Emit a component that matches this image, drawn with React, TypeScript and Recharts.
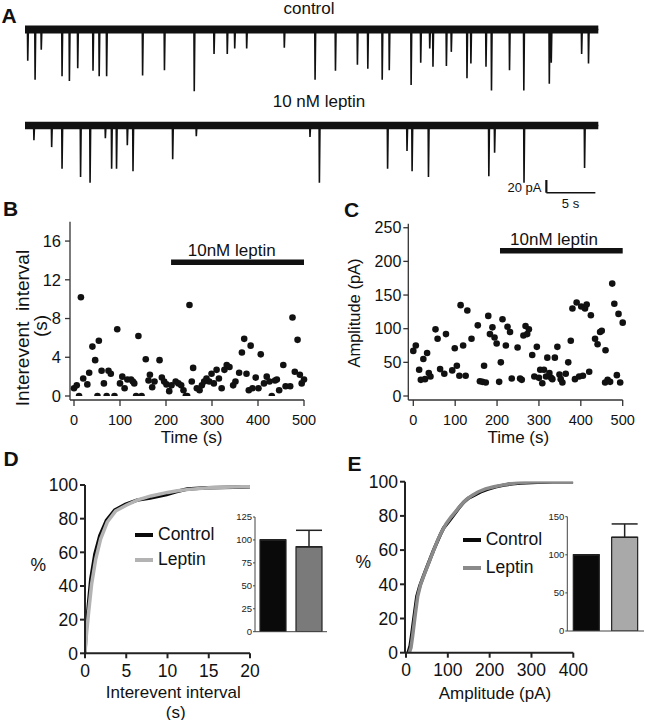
import React from "react";
import {
  LineChart, Line, XAxis, YAxis, ScatterChart, Scatter, ReferenceLine, ReferenceArea,
  BarChart, Bar, Cell, ErrorBar, Legend,
} from "recharts";

const FONT = '"Liberation Sans", Arial, Helvetica, sans-serif';

// A: raw traces (event time in s, amplitude in pA)
const traceLength = 58.5;
const controlTimes = [0.28, 1.03, 1.66, 3.78, 4.53, 5.38, 6.94, 7.57, 8.33, 12.0, 14.23, 17.27, 19.29, 20.64, 21.4, 22.62, 26.46, 29.6, 31.68, 33.92, 34.98, 36.45, 37.17, 39.4, 40.38, 41.3, 41.63, 43.0, 43.5, 45.1, 45.5, 47.04, 47.6, 49.44, 50.9, 53.5, 53.7, 56.8, 57.5];
const controlAmps = [46, 74, 30, 69, 76, 57, 61, 69, 69, 68, 60, 91, 36, 36, 28, 28, 27, 74, 61, 52, 58, 74, 60, 82, 49, 28, 55, 54, 33, 72, 50, 55, 90, 60, 90, 80, 49, 36, 50];
const leptinTimes = [0.91, 2.72, 3.78, 5.67, 6.64, 8.2, 8.84, 9.34, 10.44, 11.02, 15.07, 17.48, 29.08, 30.04, 37.0, 38.98, 39.5, 41.17, 47.33, 47.92, 50.92, 57.1];
const leptinAmps = [23, 34, 68, 81, 90, 20, 68, 68, 31, 72, 53, 17, 18, 90, 68, 40, 72, 81, 80, 43, 90, 67];
const noiseBand = [-6, 6];
const scaleBarTime = [53.2, 58.2]; // 5 s
const scaleBarCurrent = [-85.8, -105.8]; // 20 pA

// B: interevent interval vs time
const bTimes = [0, 6, 11, 15, 20, 29, 33, 40, 46, 51, 54, 60, 65, 71, 75, 80, 88, 94, 100, 105, 110, 116, 124, 128, 131, 135, 140, 147, 156, 162, 165, 170, 175, 186, 191, 196, 201, 207, 212, 221, 227, 233, 238, 243, 246, 251, 256, 259, 267, 273, 278, 283, 288, 294, 299, 304, 310, 315, 321, 327, 332, 338, 346, 351, 359, 365, 370, 375, 380, 384, 388, 395, 401, 406, 413, 419, 425, 430, 437, 441, 446, 455, 460, 470, 475, 480, 486, 491, 495, 500];
const bIntervals = [0.8, 1.1, 0, 10.2, 1.8, 1.2, 2.4, 5.1, 3.7, 0, 5.7, 2.6, 1.3, 0, 2.6, 2.3, 0, 6.9, 1.3, 2.0, 0.8, 1.7, 1.7, 1.5, 1.3, 0, 6.2, 0, 3.8, 1.6, 2.2, 0.9, 1.5, 3.7, 1.9, 1.5, 1.2, 0.5, 1.1, 1.5, 1.3, 1.1, 0.6, 0, 0, 9.4, 1.5, 2.9, 0.8, 0.6, 1.1, 1.5, 1.8, 1.5, 2.3, 1.3, 2.7, 1.8, 0.8, 2.7, 3.2, 3.0, 1.1, 1.5, 2.4, 4.5, 5.9, 2.3, 0.6, 5.2, 0.8, 1.9, 0.8, 4.3, 1.3, 2.0, 1.5, 0, 1.6, 1.7, 0.6, 3.2, 1.0, 1.0, 8.1, 2.5, 5.8, 2.2, 1.3, 1.7];
const bMajorTicks = [0, 4, 8, 12, 16];
const bMinorTicks = [2, 6, 10, 14, 18];
const bLeptinPeriod = [211, 500];
const bLeptinLevel = 13.8;

// C: amplitude vs time
const cTimes = [0, 6, 14, 18, 24, 28, 33, 37, 41, 53, 58, 64, 74, 78, 93, 99, 104, 110, 113, 119, 125, 129, 139, 154, 159, 165, 169, 173, 179, 183, 189, 194, 199, 205, 209, 213, 221, 225, 231, 235, 249, 255, 259, 263, 268, 272, 276, 284, 289, 295, 300, 303, 308, 312, 317, 320, 325, 329, 332, 338, 344, 349, 352, 356, 364, 370, 376, 380, 386, 390, 396, 401, 405, 410, 414, 420, 424, 434, 440, 446, 450, 458, 459, 464, 470, 475, 480, 486, 490, 494, 500];
const cAmps = [67, 75, 39, 24, 55, 25, 64, 34, 29, 99, 85, 40, 33, 92, 38, 71, 45, 30, 135, 75, 30, 127, 85, 105, 22, 21, 45, 20, 119, 92, 102, 87, 78, 21, 50, 114, 75, 103, 95, 26, 72, 26, 24, 90, 104, 92, 99, 61, 29, 73, 27, 39, 19, 39, 29, 57, 34, 27, 25, 57, 73, 32, 25, 20, 33, 50, 82, 130, 25, 139, 29, 133, 30, 130, 136, 36, 120, 85, 77, 95, 97, 20, 68, 24, 21, 167, 137, 31, 122, 20, 109];
const cLeptinPeriod = [207, 500];
const cLeptinLevel = 215.8;

// D: cumulative interevent interval (s, %)
const dCtrlX = [0, 0.1, 0.4, 0.7, 1.2, 1.8, 2.6, 3.6, 4.9, 6.3, 7.9, 9.9, 11, 12.4, 14.8, 18, 20];
const dCtrlY = [0, 12, 28, 44, 59, 70, 79, 85, 88.5, 91, 92.3, 94.3, 96, 97.6, 98.3, 98.7, 99];
const dLepX = [0, 0.15, 0.45, 0.8, 1.3, 1.9, 2.7, 3.7, 5.0, 6.4, 8.0, 10.0, 11.2, 12.6, 15, 18, 20];
const dLepY = [0, 10, 25, 41, 56, 68, 78, 84.5, 88, 91.2, 93.5, 95.6, 96.6, 97.4, 98.3, 98.8, 99.1];

// E: cumulative amplitude (pA, %)
const eCtrlX = [5, 10, 14, 20, 26, 33, 42, 50, 58, 66, 74, 82, 90, 100, 114, 126, 138, 150, 162, 178, 194, 214, 234, 254, 274, 314, 350, 400];
const eCtrlY = [0, 4, 11, 22, 33, 39, 45, 50, 55, 60, 64.5, 69, 73, 76, 80.5, 84.5, 88, 90.5, 92, 94, 95.5, 97, 98, 98.8, 99.3, 99.7, 100, 100];
const eLepX = [8, 12, 16, 22, 28, 35, 44, 52, 60, 68, 76, 86, 96, 108, 120, 132, 144, 158, 172, 190, 210, 230, 250, 270, 300, 340, 400];
const eLepY = [0, 3, 10, 22, 33, 40, 46, 51, 56, 61, 66, 71, 75.5, 79.5, 83, 86.5, 89.5, 92, 94, 95.8, 97, 98, 98.8, 99.5, 99.8, 100, 100];

// insets: normalized mean (% of control)
const groups = ["Control", "Leptin"];
const dFreqMean = [100, 92.5];
const dFreqErr = [0, 18];
const eAmpMean = [100, 123];
const eAmpErr = [0, 17.5];

const toTrace = (times: number[], amps: number[], end: number) => {
  const pts: { t: number; v: number }[] = [{ t: 0, v: 0 }];
  times.forEach((t, i) => {
    pts.push({ t: t - 0.03, v: 0 }, { t, v: -amps[i] }, { t: t + 0.06, v: 0 });
  });
  pts.push({ t: end, v: 0 });
  return pts;
};
const zipXY = (xs: number[], ys: number[]) => xs.map((x, i) => ({ x, y: ys[i] }));
const zipTV = (ts: number[], vs: number[]) => ts.map((t, i) => ({ t, v: vs[i] }));
const barRows = (means: number[], errs: number[]) =>
  groups.map((g, i) => ({ g, m: means[i], err: [0, errs[i]] }));

const controlTrace = toTrace(controlTimes, controlAmps, traceLength);
const leptinTrace = toTrace(leptinTimes, leptinAmps, traceLength);
const bData = zipTV(bTimes, bIntervals);
const cData = zipTV(cTimes, cAmps);

const Txt = ({ x, y, size = 17, bold = false, rotate = 0, children }: any) => (
  <div
    style={{
      position: "absolute", left: x, top: y, fontSize: size, fontWeight: bold ? 700 : 400,
      lineHeight: 1, whiteSpace: "nowrap", color: "#111", pointerEvents: "none",
      transform: `translate(-50%, -50%) rotate(${rotate}deg)`,
    }}
  >
    {children}
  </div>
);

const Dot = (p: any) => <circle cx={p.cx} cy={p.cy} r={3.3} fill="#111" />;

const LegendBox = ({ payload, rowH }: any) => (
  <div style={{ fontSize: 17.5, color: "#111", lineHeight: 1 }}>
    {(payload || []).map((p: any) => (
      <div key={p.value} style={{ display: "flex", alignItems: "center", height: rowH }}>
        <span style={{ display: "inline-block", width: 18, height: 4, background: p.color, marginRight: 5 }} />
        <span>{p.value}</span>
      </div>
    ))}
  </div>
);

const abs = (left: number, top: number): React.CSSProperties => ({ position: "absolute", left, top });
const axisStroke = { stroke: "#333", strokeWidth: 1.3 };
const axisStrokeBold = { stroke: "#222", strokeWidth: 2 };

const TraceChart = ({ data, top, marginTop, domain, scaleBar }: any) => (
  <div style={abs(0, top)}>
    <LineChart width={647} height={100} data={data} margin={{ top: marginTop, right: 34, bottom: 0, left: 25 }}>
      <XAxis type="number" dataKey="t" domain={[0, 60]} hide allowDataOverflow />
      <YAxis type="number" domain={domain} hide allowDataOverflow />
      <ReferenceArea x1={0} x2={traceLength} y1={noiseBand[0]} y2={noiseBand[1]} fill="#111" fillOpacity={1} stroke="none" />
      <Line type="linear" dataKey="v" stroke="#111" strokeWidth={1.6} dot={false} isAnimationActive={false} />
      {scaleBar && (
        <ReferenceLine
          segment={[{ x: scaleBarTime[0], y: scaleBarCurrent[0] }, { x: scaleBarTime[0], y: scaleBarCurrent[1] }]}
          stroke="#111" strokeWidth={2.2}
        />
      )}
      {scaleBar && (
        <ReferenceLine
          segment={[{ x: scaleBarTime[0], y: scaleBarCurrent[1] }, { x: scaleBarTime[1], y: scaleBarCurrent[1] }]}
          stroke="#111" strokeWidth={1.6}
        />
      )}
    </LineChart>
  </div>
);

const InsetBars = ({ left, top, width, yWidth, marginTop, marginRight, xHeight, rows, domain, ticks, fills }: any) => (
  <div style={abs(left, top)}>
    <BarChart width={width} height={135} data={rows} margin={{ top: marginTop, right: marginRight, bottom: 0, left: 0 }}>
      <XAxis dataKey="g" tick={false} tickLine={false} height={xHeight} axisLine={{ stroke: "#444", strokeWidth: 1 }} />
      <YAxis
        width={yWidth} domain={domain} ticks={ticks} allowDataOverflow tickSize={2} tickMargin={1}
        axisLine={{ stroke: "#444", strokeWidth: 1 }} tickLine={{ stroke: "#444" }}
        tick={{ fontSize: 9.5, fill: "#222" }}
      />
      <Bar dataKey="m" barSize={26} stroke="#222" strokeWidth={1.2} isAnimationActive={false}>
        {rows.map((r: any, i: number) => (
          <Cell key={r.g} fill={fills[i]} />
        ))}
        <ErrorBar dataKey="err" width={13} stroke="#222" strokeWidth={1.5} direction="y" />
      </Bar>
    </BarChart>
  </div>
);

export default function App() {
  return (
    <div style={{ position: "absolute", left: 0, top: 0, width: 647, height: 720, background: "#fff", fontFamily: FONT, overflow: "hidden" }}>
      {/* A */}
      <TraceChart data={controlTrace} top={0} marginTop={20} domain={[-104, 14]} />
      <TraceChart data={leptinTrace} top={100} marginTop={16} domain={[-117.3, 15]} scaleBar />

      {/* B */}
      <div style={abs(0, 200)}>
        <ScatterChart width={320} height={250} margin={{ top: 21.7, right: 16, bottom: 0, left: 0 }}>
          <XAxis
            type="number" dataKey="t" domain={[0, 500]} ticks={[0, 100, 200, 300, 400, 500]}
            padding={{ left: 4, right: 0 }} height={50} tickSize={6} tickMargin={9}
            axisLine={axisStroke} tickLine={axisStroke} tick={{ fontSize: 14.5, fill: "#111" }}
          />
          <YAxis
            yAxisId="minor" type="number" domain={[0, 18]} ticks={bMinorTicks}
            padding={{ top: 0, bottom: 4 }} width={0} tickSize={3} tick={false}
            axisLine={false} tickLine={axisStroke} allowDataOverflow
          />
          <YAxis
            type="number" dataKey="v" domain={[0, 18]} ticks={bMajorTicks}
            padding={{ top: 0, bottom: 4 }} width={70} tickSize={5} tickMargin={4}
            axisLine={axisStroke} tickLine={axisStroke} tick={{ fontSize: 16.5, fill: "#111" }} allowDataOverflow
          />
          <ReferenceLine
            segment={[{ x: bLeptinPeriod[0], y: bLeptinLevel }, { x: bLeptinPeriod[1], y: bLeptinLevel }]}
            stroke="#111" strokeWidth={5.5}
          />
          <Scatter data={bData} shape={Dot} isAnimationActive={false} />
        </ScatterChart>
      </div>

      {/* C */}
      <div style={abs(320, 200)}>
        <ScatterChart width={327} height={250} margin={{ top: 23.7, right: 24.3, bottom: 0, left: 0 }}>
          <XAxis
            type="number" dataKey="t" domain={[0, 500]} ticks={[0, 100, 200, 300, 400, 500]}
            padding={{ left: 5, right: 0 }} height={50} tickSize={6} tickMargin={9}
            axisLine={axisStroke} tickLine={axisStroke} tick={{ fontSize: 14.5, fill: "#111" }}
          />
          <YAxis
            type="number" dataKey="v" domain={[0, 256]} ticks={[0, 50, 100, 150, 200, 250]}
            padding={{ top: 0, bottom: 4 }} width={88.3} tickSize={5} tickMargin={2}
            axisLine={axisStroke} tickLine={axisStroke} tick={{ fontSize: 16, fill: "#111" }} allowDataOverflow
          />
          <ReferenceLine
            segment={[{ x: cLeptinPeriod[0], y: cLeptinLevel }, { x: cLeptinPeriod[1], y: cLeptinLevel }]}
            stroke="#111" strokeWidth={5.5}
          />
          <Scatter data={cData} shape={Dot} isAnimationActive={false} />
        </ScatterChart>
      </div>

      {/* D */}
      <div style={abs(0, 460)}>
        <LineChart width={330} height={260} margin={{ top: 25, right: 80, bottom: 0, left: 0 }}>
          <XAxis
            type="number" dataKey="x" domain={[0, 20]} ticks={[0, 5, 10, 15, 20]} height={66.7}
            tickSize={5} tickMargin={6} axisLine={axisStrokeBold} tickLine={axisStrokeBold}
            tick={{ fontSize: 17.5, fill: "#111" }} allowDataOverflow
          />
          <YAxis
            type="number" domain={[0, 100]} ticks={[0, 20, 40, 60, 80, 100]} width={85}
            tickSize={5} tickMargin={2} axisLine={axisStrokeBold} tickLine={axisStrokeBold}
            tick={{ fontSize: 17.5, fill: "#111" }} allowDataOverflow
          />
          <Line data={zipXY(dCtrlX, dCtrlY)} name="Control" dataKey="y" type="linear" stroke="#0a0a0a" strokeWidth={3.5} dot={false} isAnimationActive={false} />
          <Line data={zipXY(dLepX, dLepY)} name="Leptin" dataKey="y" type="linear" stroke="#b3b3b3" strokeWidth={3.5} dot={false} isAnimationActive={false} />
          <Legend
            layout="vertical" align="center" verticalAlign="middle"
            wrapperStyle={{ left: 135, top: 62.5, width: 110 }}
            content={(p: any) => <LegendBox {...p} rowH={25} />}
          />
        </LineChart>
      </div>
      <InsetBars
        left={225} top={505} width={110} yWidth={30} marginTop={12} marginRight={8} xHeight={8.3}
        rows={barRows(dFreqMean, dFreqErr)} domain={[0, 125]} ticks={[0, 25, 50, 75, 100, 125]}
        fills={["#0a0a0a", "#7a7a7a"]}
      />

      {/* E */}
      <div style={abs(320, 460)}>
        <LineChart width={327} height={260} margin={{ top: 21.7, right: 73.7, bottom: 0, left: 0 }}>
          <XAxis
            type="number" dataKey="x" domain={[0, 400]} ticks={[0, 100, 200, 300, 400]} height={67.3}
            padding={{ left: 1, right: 0 }} tickSize={5} tickMargin={6} axisLine={axisStrokeBold} tickLine={axisStrokeBold}
            tick={{ fontSize: 17.5, fill: "#111" }} allowDataOverflow
          />
          <YAxis
            type="number" domain={[0, 100]} ticks={[0, 20, 40, 60, 80, 100]} width={85}
            tickSize={5} tickMargin={2} axisLine={axisStrokeBold} tickLine={axisStrokeBold}
            tick={{ fontSize: 17.5, fill: "#111" }} allowDataOverflow
          />
          <Line data={zipXY(eCtrlX, eCtrlY)} name="Control" dataKey="y" type="linear" stroke="#0a0a0a" strokeWidth={3.5} dot={false} isAnimationActive={false} />
          <Line data={zipXY(eLepX, eLepY)} name="Leptin" dataKey="y" type="linear" stroke="#8a8a8a" strokeWidth={3.5} dot={false} isAnimationActive={false} />
          <Legend
            layout="vertical" align="center" verticalAlign="middle"
            wrapperStyle={{ left: 142.7, top: 66, width: 110 }}
            content={(p: any) => <LegendBox {...p} rowH={28} />}
          />
        </LineChart>
      </div>
      <InsetBars
        left={540} top={505} width={107} yWidth={27.3} marginTop={11.7} marginRight={3} xHeight={9}
        rows={barRows(eAmpMean, eAmpErr)} domain={[0, 150]} ticks={[0, 50, 100, 150]}
        fills={["#0a0a0a", "#a9a9a9"]}
      />

      {/* text */}
      <Txt x={9} y={15} size={21} bold>A</Txt>
      <Txt x={309} y={8}>control</Txt>
      <Txt x={319} y={100.5}>10 nM leptin</Txt>
      <Txt x={524.5} y={186.5} size={13}>20 pA</Txt>
      <Txt x={570.5} y={203} size={13}>5 s</Txt>

      <Txt x={10.5} y={207.5} size={21} bold>B</Txt>
      <Txt x={231.7} y={250}>10nM leptin</Txt>
      <Txt x={191.7} y={437}>Time (s)</Txt>
      <Txt x={22} y={328} size={19} rotate={-90}>Interevent&nbsp;&nbsp;interval</Txt>
      <Txt x={40} y={326} size={19} rotate={-90}>(s)</Txt>

      <Txt x={351.5} y={208.5} size={21} bold>C</Txt>
      <Txt x={554} y={238.5}>10nM leptin</Txt>
      <Txt x={518.3} y={437}>Time (s)</Txt>
      <Txt x={354} y={312.5} size={16.5} rotate={-90}>Amplitude (pA)</Txt>

      <Txt x={11} y={457.5} size={21} bold>D</Txt>
      <Txt x={38.3} y={566} size={17.5}>%</Txt>
      <Txt x={173.3} y={692} size={17}>Interevent interval</Txt>
      <Txt x={175.7} y={711.5} size={17}>(s)</Txt>

      <Txt x={354.5} y={462.5} size={21} bold>E</Txt>
      <Txt x={363.3} y={563.3} size={17.5}>%</Txt>
      <Txt x={495} y={693} size={17}>Amplitude (pA)</Txt>
    </div>
  );
}
